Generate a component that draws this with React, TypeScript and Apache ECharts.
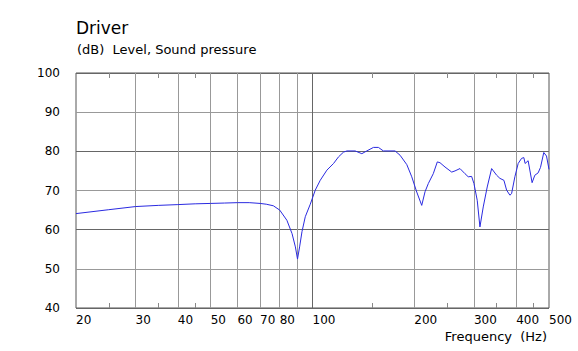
import React, { useEffect, useRef } from "react";
import * as echarts from "echarts";

const freqs = [20, 25, 30, 35, 40, 45, 50, 55, 60, 65, 70, 73, 76.6, 80, 84, 87, 89, 90.3, 91.6, 93.1, 95.2, 98.5, 101.9, 105.4, 110.3, 115.4, 119.4, 123.5, 126.4, 133.7, 139.9, 144.7, 151.4, 156.6, 162, 175.4, 181.5, 190, 196.5, 203.3, 210.3, 215.1, 220, 227.5, 233.8, 238.1, 246.4, 257.9, 263.7, 272.8, 282.2, 288.6, 295.3, 300, 306.8, 312.5, 319.6, 328.4, 338.4, 350.1, 358, 367.9, 374.7, 383.2, 387.6, 396.4, 405.4, 414.8, 421.3, 425, 433.8, 445.7, 454, 464.3, 471.9, 482.6, 491.6, 500];
const levels = [64.1, 65.1, 65.9, 66.2, 66.4, 66.6, 66.7, 66.8, 66.9, 66.9, 66.7, 66.5, 66.1, 65.0, 62.4, 59.0, 55.6, 52.5, 55.6, 59.5, 63.3, 66.5, 70.1, 72.6, 75.2, 76.9, 78.6, 79.8, 80.1, 80.1, 79.4, 80.1, 81.0, 81.0, 80.1, 80.1, 79.0, 76.6, 73.5, 69.6, 66.2, 69.7, 71.8, 74.3, 77.3, 77.1, 76.0, 74.7, 75.0, 75.6, 74.3, 73.5, 73.6, 71.8, 67.5, 60.7, 65.8, 70.9, 75.6, 73.9, 73.1, 72.6, 70.1, 68.8, 69.2, 73.5, 76.9, 78.2, 78.4, 76.9, 77.6, 72.0, 73.9, 74.5, 75.9, 79.7, 78.8, 75.4];

const gridFreqs = [30, 40, 50, 60, 70, 80, 90, 100, 200, 300, 400];
const gridColors = ["#999", "#999", "#999", "#999", "#999", "#999", "#999", "#666", "#999", "#999", "#999"];
const minorFreqs = [25, 35, 45, 150, 250, 350, 450];
const labelFreqs = [20, 30, 40, 50, 60, 70, 80, 100, 200, 300, 400, 500];

const FONT = "DejaVu Sans";
const lg = (v: number) => Math.log10(v);

export default function App() {
  const ref = useRef<HTMLDivElement>(null);
  useEffect(() => {
    if (!ref.current) return;
    const chart = echarts.init(ref.current, null, { renderer: "svg" });
    const xMin = lg(20);
    const xMax = lg(500);
    const minorAxis = (position: string) => ({
      type: "value",
      position,
      min: xMin,
      max: xMax,
      axisLine: { show: false },
      axisLabel: { show: false },
      splitLine: { show: false },
      axisTick: {
        show: true,
        inside: true,
        length: 5,
        customValues: minorFreqs.map(lg),
        lineStyle: { color: "#888", width: 1 },
      },
    });
    chart.setOption({
      animation: false,
      textStyle: { fontFamily: FONT },
      grid: {
        left: 76,
        right: 29,
        top: 73,
        bottom: 43,
        show: true,
        borderColor: "#555",
        borderWidth: 1,
        backgroundColor: "transparent",
      },
      graphic: [
        { type: "text", left: 76, top: 19, style: { text: "Driver", font: `17px "${FONT}"`, fill: "#000" } },
        { type: "text", left: 77, top: 43, style: { text: "(dB)  Level, Sound pressure", font: `13px "${FONT}"`, fill: "#000" } },
        { type: "text", right: 31, top: 330, style: { text: "Frequency  (Hz)", font: `13px "${FONT}"`, fill: "#000" } },
      ],
      xAxis: [
        {
          type: "value",
          position: "bottom",
          min: xMin,
          max: xMax,
          axisLine: { show: false },
          axisTick: { show: false, customValues: gridFreqs.map(lg) },
          splitLine: { show: true, lineStyle: { color: gridColors, width: 1 } },
          axisLabel: {
            customValues: labelFreqs.map(lg),
            formatter: (v: number) => String(Math.round(Math.pow(10, v))),
            align: "left",
            margin: 6,
            fontSize: 12,
            color: "#000",
            fontFamily: FONT,
          },
        },
        minorAxis("bottom"),
        minorAxis("top"),
      ],
      yAxis: {
        type: "value",
        min: 40,
        max: 100,
        interval: 10,
        axisLine: { show: false },
        axisTick: { show: false },
        axisLabel: { margin: 16, fontSize: 12, color: "#000", fontFamily: FONT },
        splitLine: { show: true, lineStyle: { color: ["#666", "#999"], width: 1 } },
      },
      series: [
        {
          type: "line",
          xAxisIndex: 0,
          data: freqs.map((f, i) => [lg(f), levels[i]]),
          showSymbol: false,
          symbol: "none",
          lineStyle: { color: "#2a2ae0", width: 1 },
          silent: true,
        },
      ],
    });
    return () => chart.dispose();
  }, []);
  return <div ref={ref} style={{ width: 578, height: 351, position: "absolute", left: 0, top: 0 }} />;
}
